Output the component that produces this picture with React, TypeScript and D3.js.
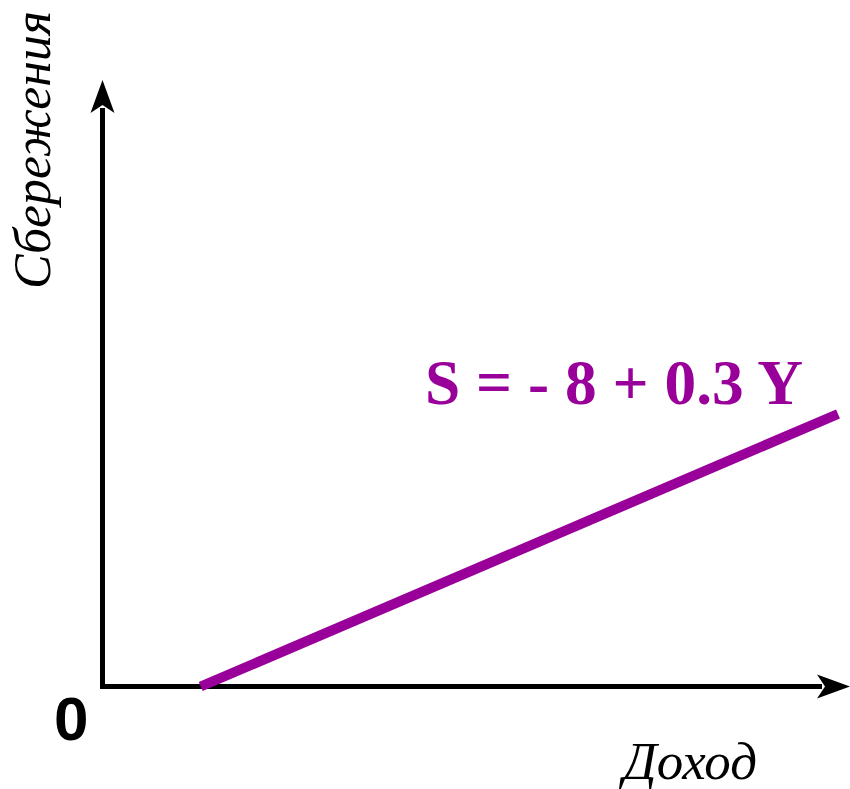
import React from "react";
import * as d3 from "d3";

// savings function S = -8 + 0.3 Y at its two ends
const incomePoints = [26.7, 200];
const savingsPoints = [0, 52];
const lineLabel = "S = - 8 + 0.3 Y";
const xTitle = "Доход";
const yTitle = "Сбережения";
const originLabel = "0";

const W = 850;
const H = 789;
const ox = 102.5;
const oy = 686.5;
const serif = "'Liberation Serif', 'Times New Roman', serif";

export default function App() {
  const x = d3.scaleLinear().domain([0, 200]).range([ox, 838]);
  const y = d3.scaleLinear().domain([0, 52]).range([oy, 414]);

  const pts: [number, number][] = incomePoints.map((d, i) => [d, savingsPoints[i]]);
  const line = d3
    .line<[number, number]>()
    .x((d) => x(d[0]))
    .y((d) => y(d[1]));

  // arrow heads: tip, back corner, notch, back corner
  const upArrow = `M${ox},80 L${ox - 12},113 L${ox},105 L${ox + 12},113 Z`;
  const rightArrow = `M850,${oy} L817,${oy - 12} L825,${oy} L817,${oy + 12} Z`;

  return (
    <svg
      width={W}
      height={H}
      style={{ position: "absolute", left: 0, top: 0, display: "block", background: "#fff" }}
    >
      <line x1={ox} y1={oy + 2.5} x2={ox} y2={108} stroke="#000" strokeWidth={5} />
      <path d={upArrow} fill="#000" />
      <line x1={ox - 2.5} y1={oy} x2={822} y2={oy} stroke="#000" strokeWidth={5} />
      <path d={rightArrow} fill="#000" />

      <path d={line(pts) || ""} fill="none" stroke="#990099" strokeWidth={10} />

      <text
        x={425}
        y={404}
        fill="#990099"
        fontFamily={serif}
        fontWeight="bold"
        fontSize={63}
        textLength={378}
        lengthAdjust="spacingAndGlyphs"
      >
        {lineLabel}
      </text>

      <text
        x={54}
        y={740}
        fontFamily="'Liberation Sans', Arial, sans-serif"
        fontWeight="bold"
        fontSize={62}
      >
        {originLabel}
      </text>

      <text
        x={623}
        y={779}
        fontFamily={serif}
        fontStyle="italic"
        fontSize={53}
        textLength={134}
        lengthAdjust="spacingAndGlyphs"
      >
        {xTitle}
      </text>

      <text
        transform="translate(50,289) rotate(-90)"
        fontFamily={serif}
        fontStyle="italic"
        fontSize={53}
        textLength={278}
        lengthAdjust="spacingAndGlyphs"
      >
        {yTitle}
      </text>
    </svg>
  );
}
